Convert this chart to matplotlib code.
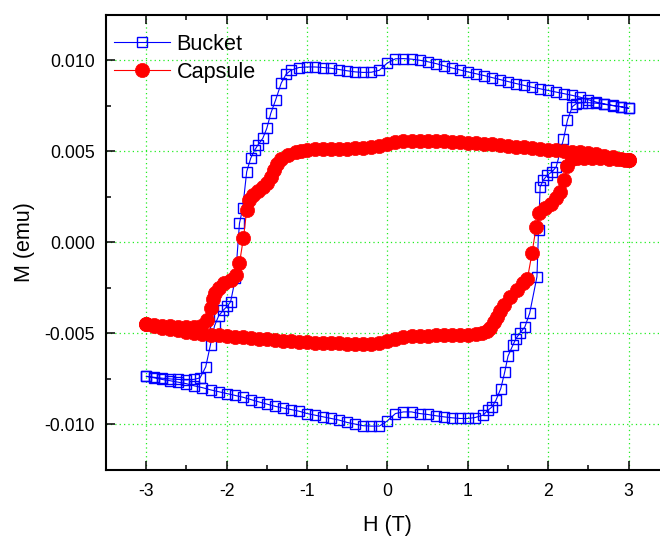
import numpy as np
import matplotlib
matplotlib.use("Agg")
import matplotlib.pyplot as plt
from matplotlib.ticker import MultipleLocator, FormatStrFormatter

plt.rcParams['font.family'] = ['Liberation Sans', 'DejaVu Sans']
plt.rcParams['axes.unicode_minus'] = False

# Bucket loop, field going down from +3 T (M in 1e-3 emu)
bucket_h_down = [3.0, 2.9, 2.8, 2.7, 2.6, 2.5, 2.4, 2.3, 2.2, 2.1,
                 2.0, 1.9, 1.8, 1.7, 1.6, 1.5, 1.4, 1.3, 1.2, 1.1,
                 1.0, 0.9, 0.8, 0.7, 0.6, 0.5, 0.4, 0.3, 0.2, 0.1,
                 0.0, -0.1, -0.2, -0.3, -0.4, -0.5, -0.6, -0.7, -0.8, -0.9,
                 -1.0, -1.1, -1.2, -1.26, -1.32, -1.39, -1.45, -1.50, -1.55, -1.61,
                 -1.65, -1.70, -1.75, -1.80, -1.84, -1.89, -1.95, -1.99, -2.04, -2.10,
                 -2.15, -2.20, -2.26, -2.33, -2.4, -2.5, -2.6, -2.7, -2.8, -2.9,
                 -3.0]
bucket_m_down = [7.36, 7.45, 7.52, 7.60, 7.70, 7.83, 7.97, 8.07, 8.16, 8.25,
                 8.34, 8.43, 8.52, 8.62, 8.72, 8.83, 8.94, 9.05, 9.16, 9.26,
                 9.36, 9.47, 9.58, 9.70, 9.82, 9.92, 10.00, 10.06, 10.09, 10.08,
                 9.85, 9.45, 9.34, 9.33, 9.36, 9.42, 9.49, 9.56, 9.60, 9.63,
                 9.63, 9.60, 9.45, 9.23, 8.75, 7.82, 7.09, 6.26, 5.71, 5.35,
                 5.07, 4.62, 3.88, 1.87, 1.04, -1.96, -3.26, -3.50, -3.72, -4.05,
                 -4.58, -5.62, -6.84, -7.44, -7.52, -7.55, -7.53, -7.50, -7.46, -7.41,
                 -7.36]

# Bucket loop, field going back up from -3 T
bucket_h_up = [-3.0, -2.9, -2.8, -2.7, -2.6, -2.5, -2.4, -2.3, -2.2, -2.1,
               -2.0, -1.9, -1.8, -1.7, -1.6, -1.5, -1.4, -1.3, -1.2, -1.1,
               -1.0, -0.9, -0.8, -0.7, -0.6, -0.5, -0.4, -0.3, -0.2, -0.1,
               0.0, 0.1, 0.2, 0.3, 0.4, 0.5, 0.6, 0.7, 0.8, 0.9,
               1.0, 1.09, 1.19, 1.25, 1.30, 1.35, 1.41, 1.46, 1.50, 1.56,
               1.60, 1.65, 1.71, 1.77, 1.86, 1.88, 1.90, 1.94, 1.99, 2.05,
               2.10, 2.19, 2.24, 2.30, 2.35, 2.42, 2.5, 2.6, 2.7, 2.8,
               2.9, 3.0]
bucket_m_up = [-7.35, -7.44, -7.53, -7.60, -7.68, -7.76, -7.88, -7.98, -8.10, -8.20,
               -8.30, -8.40, -8.50, -8.63, -8.76, -8.88, -9.00, -9.09, -9.18, -9.27,
               -9.40, -9.49, -9.58, -9.67, -9.76, -9.89, -9.98, -10.07, -10.09, -10.09,
               -9.80, -9.40, -9.31, -9.31, -9.40, -9.45, -9.52, -9.58, -9.63, -9.67,
               -9.67, -9.62, -9.49, -9.22, -9.04, -8.67, -8.03, -7.11, -6.25, -5.65,
               -5.28, -4.97, -4.64, -3.88, -1.89, 0.70, 3.05, 3.42, 3.70, 3.88,
               4.15, 5.66, 6.72, 7.45, 7.62, 7.67, 7.67, 7.64, 7.58, 7.51,
               7.45, 7.36]

# Capsule loop, field going down
capsule_h_down = [3.0, 2.9, 2.8, 2.7, 2.6, 2.5, 2.4, 2.3, 2.2, 2.1,
                  2.0, 1.9, 1.8, 1.7, 1.6, 1.5, 1.4, 1.3, 1.2, 1.1,
                  1.0, 0.9, 0.8, 0.7, 0.6, 0.5, 0.4, 0.3, 0.2, 0.1,
                  0.0, -0.1, -0.2, -0.3, -0.4, -0.5, -0.6, -0.7, -0.8, -0.9,
                  -1.0, -1.07, -1.14, -1.24, -1.32, -1.37, -1.41, -1.45, -1.50, -1.55,
                  -1.61, -1.67, -1.72, -1.75, -1.79, -1.84, -1.88, -1.95, -2.03, -2.09,
                  -2.14, -2.17, -2.20, -2.25, -2.32, -2.4, -2.5, -2.6, -2.7, -2.8,
                  -2.9, -3.0]
capsule_m_down = [4.50, 4.60, 4.69, 4.76, 4.83, 4.89, 4.94, 4.98, 5.02, 5.05,
                  5.09, 5.13, 5.17, 5.21, 5.26, 5.31, 5.35, 5.39, 5.42, 5.45,
                  5.48, 5.50, 5.52, 5.54, 5.56, 5.57, 5.58, 5.58, 5.57, 5.52,
                  5.42, 5.30, 5.22, 5.18, 5.16, 5.14, 5.13, 5.12, 5.11, 5.10,
                  5.08, 5.03, 4.95, 4.80, 4.55, 4.30, 3.97, 3.60, 3.27, 3.05,
                  2.84, 2.60, 2.32, 1.77, 0.25, -1.15, -1.80, -2.07, -2.25, -2.53,
                  -2.80, -3.13, -3.63, -4.27, -4.62, -4.66, -4.66, -4.64, -4.61, -4.57,
                  -4.52, -4.46]

# Capsule loop, field going up
capsule_h_up = [-3.0, -2.9, -2.8, -2.7, -2.6, -2.5, -2.4, -2.3, -2.2, -2.1,
                -2.0, -1.9, -1.8, -1.7, -1.6, -1.5, -1.4, -1.3, -1.2, -1.1,
                -1.0, -0.9, -0.8, -0.7, -0.6, -0.5, -0.4, -0.3, -0.2, -0.1,
                0.0, 0.1, 0.2, 0.3, 0.4, 0.5, 0.6, 0.7, 0.8, 0.9,
                1.0, 1.1, 1.18, 1.24, 1.28, 1.32, 1.36, 1.40, 1.45, 1.53,
                1.61, 1.69, 1.74, 1.80, 1.85, 1.89, 1.96, 2.03, 2.10, 2.15,
                2.20, 2.24, 2.29, 2.36, 2.45, 2.55, 2.65, 2.75, 2.85, 2.95,
                3.0]
capsule_m_up = [-4.46, -4.58, -4.68, -4.76, -4.84, -4.91, -4.97, -5.02, -5.06, -5.10,
                -5.13, -5.17, -5.21, -5.25, -5.29, -5.32, -5.36, -5.40, -5.43, -5.46,
                -5.48, -5.50, -5.52, -5.54, -5.55, -5.56, -5.57, -5.57, -5.56, -5.52,
                -5.42, -5.30, -5.20, -5.16, -5.13, -5.12, -5.11, -5.10, -5.09, -5.08,
                -5.07, -5.04, -4.97, -4.85, -4.70, -4.40, -4.09, -3.75, -3.45, -2.99,
                -2.62, -2.25, -2.03, -0.57, 0.86, 1.59, 1.87, 2.10, 2.42, 2.78,
                3.42, 4.19, 4.55, 4.62, 4.64, 4.64, 4.62, 4.60, 4.56, 4.52,
                4.50]

bucket_h = np.array(bucket_h_down + bucket_h_up)
bucket_m = np.array(bucket_m_down + bucket_m_up) * 1e-3
capsule_h = np.array(capsule_h_down + capsule_h_up)
capsule_m = np.array(capsule_m_down + capsule_m_up) * 1e-3

fig = plt.figure(figsize=(6.6, 5.36), dpi=100)
ax = fig.add_axes([106 / 660, 66 / 536, 562.8 / 660, 455.3 / 536])

ax.plot(bucket_h, bucket_m, '-', color='#0000ff', lw=0.8,
        marker='s', ms=7.4, mfc='none', mec='#0000ff', mew=1.0, label='Bucket')
ax.plot(capsule_h, capsule_m, '-', color='#ff0000', lw=0.8,
        marker='o', ms=10.2, mfc='#ff0000', mec='#ff0000', mew=0.5, label='Capsule')

ax.set_xlim(-3.5, 3.5)
ax.set_ylim(-0.0125, 0.0125)
ax.xaxis.set_major_locator(MultipleLocator(1))
ax.xaxis.set_minor_locator(MultipleLocator(0.5))
ax.yaxis.set_major_locator(MultipleLocator(0.005))
ax.yaxis.set_minor_locator(MultipleLocator(0.0025))
ax.yaxis.set_major_formatter(FormatStrFormatter('%.3f'))
ax.xaxis.set_major_formatter(FormatStrFormatter('%d'))

ax.grid(True, which='major', color='#22ee22', linestyle=(0, (1, 2.5)), lw=0.9)
ax.set_axisbelow(True)

ax.tick_params(which='both', direction='in', top=True, right=True, width=1.1)
ax.tick_params(which='major', length=6.5, labelsize=12.7)
ax.tick_params(axis='x', which='major', pad=9)
ax.tick_params(axis='y', which='major', pad=8)
ax.tick_params(which='minor', length=3.6)
for s in ax.spines.values():
    s.set_linewidth(1.5)

ax.set_xlabel('H (T)', fontsize=15.5, labelpad=11)
ax.set_ylabel('M (emu)', fontsize=15.5, labelpad=7)

ax.legend(loc='upper left', bbox_to_anchor=(0.014, 0.958), frameon=False,
          fontsize=15.6, handlelength=2.6, handletextpad=0.3,
          labelspacing=0.32, borderpad=0, borderaxespad=0)

fig.savefig('out.png', dpi=100)
